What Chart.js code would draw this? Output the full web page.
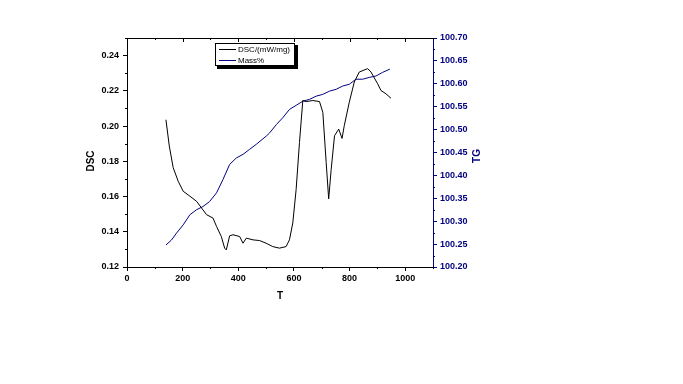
<!DOCTYPE html>
<html><head><meta charset="utf-8">
<script src="https://cdn.jsdelivr.net/npm/chart.js@4/dist/chart.umd.min.js"></script>
<style>html,body{margin:0;padding:0;background:#fff;}#wrap{width:683px;height:384px;position:relative;}</style>
</head><body><div id="wrap"><canvas id="c" width="683" height="384"></canvas></div>
<script>
// ---- data ----
const dscT = [140,152,166,184,202,226,250,268,286,309,322,339,351,357,369,381,405,417,429,453,477,500,524,548,572,584,596,608,620,632,644,668,692,704,716,725,734,746,761,773,781,799,817,835,865,877,901,913,931,949];
const dscV = [0.2036,0.1887,0.1764,0.1687,0.1630,0.1602,0.1573,0.1535,0.1497,0.1478,0.1430,0.1373,0.1307,0.1297,0.1377,0.1383,0.1373,0.1335,0.1364,0.1354,0.1350,0.1335,0.1316,0.1307,0.1316,0.1354,0.1450,0.1640,0.1907,0.2145,0.2139,0.2145,0.2139,0.2078,0.1793,0.1587,0.1754,0.1945,0.1983,0.1930,0.2002,0.2135,0.2250,0.2307,0.2326,0.2307,0.2240,0.2202,0.2183,0.2158];
const massT = [140,160,178,202,226,250,273,297,322,345,369,393,417,441,465,501,513,537,560,584,608,632,656,680,704,728,752,775,799,823,847,871,895,919,945];
const massV = [100.248,100.259,100.274,100.292,100.314,100.325,100.332,100.343,100.362,100.391,100.424,100.438,100.446,100.457,100.468,100.486,100.493,100.511,100.526,100.544,100.553,100.562,100.566,100.573,100.577,100.584,100.588,100.595,100.599,100.610,100.610,100.614,100.617,100.625,100.632];
const xTicks = [0,200,400,600,800,1000];
const yTicks = [0.12,0.14,0.16,0.18,0.20,0.22,0.24];
const y2Ticks = [100.20,100.25,100.30,100.35,100.40,100.45,100.50,100.55,100.60,100.65,100.70];
const seriesNames = ['DSC/(mW/mg)','Mass%'];
const axisTitles = {x:'T', y:'DSC', y2:'TG'};

const NAVY = '#000080';
const tickFont = {family:'"Liberation Sans", Arial, sans-serif', size:9, weight:'bold'};

const extras = {
  id:'extras',
  afterDraw(chart){
    const ctx = chart.ctx, a = chart.chartArea;
    const sx = chart.scales.x, sy = chart.scales.y, sy2 = chart.scales.y2;
    ctx.save();
    ctx.lineWidth = 1;
    // top border with inward ticks
    ctx.strokeStyle = '#000';
    ctx.beginPath();
    ctx.moveTo(a.left, a.top+0.5); ctx.lineTo(a.right, a.top+0.5);
    for (let v=0; v<=1100; v+=100){
      const p = Math.round(sx.getPixelForValue(v))+0.5;
      const L = (v%200===0)?4:2;
      ctx.moveTo(p, a.top); ctx.lineTo(p, a.top+L);
      if (v%200!==0){ ctx.moveTo(p, a.bottom); ctx.lineTo(p, a.bottom+2); }
    }
    // left minor ticks
    for (let i=0;i<7;i++){
      const v = 0.13+0.02*i;
      const p = Math.round(sy.getPixelForValue(v))+0.5;
      ctx.moveTo(a.left, p); ctx.lineTo(a.left-2, p);
    }
    ctx.stroke();
    // right minor ticks
    ctx.strokeStyle = NAVY;
    ctx.beginPath();
    for (let i=0;i<10;i++){
      const v = 100.225+0.05*i;
      const p = Math.round(sy2.getPixelForValue(v))+0.5;
      ctx.moveTo(a.right, p); ctx.lineTo(a.right+2, p);
    }
    ctx.stroke();
    // axis titles
    ctx.font = 'bold 10px "Liberation Sans", Arial, sans-serif';
    ctx.textAlign = 'center'; ctx.textBaseline = 'middle';
    ctx.fillStyle = '#000';
    ctx.fillText(axisTitles.x, (a.left+a.right)/2, 296);
    ctx.save(); ctx.translate(91, 161); ctx.rotate(-Math.PI/2); ctx.fillText(axisTitles.y,0,0); ctx.restore();
    ctx.fillStyle = NAVY;
    ctx.save(); ctx.translate(477, 156); ctx.rotate(-Math.PI/2); ctx.fillText(axisTitles.y2,0,0); ctx.restore();
    // legend
    const lx=215, ly=43, lw=80, lh=23;
    ctx.fillStyle = '#000';
    ctx.fillRect(lx+2, ly+2, lw+1, lh+1);
    ctx.fillStyle = '#fff';
    ctx.fillRect(lx, ly, lw, lh);
    ctx.strokeStyle = '#000';
    ctx.strokeRect(lx+0.5, ly+0.5, lw-1, lh-1);
    ctx.font = '8px "Liberation Sans", Arial, sans-serif';
    ctx.textAlign = 'left';
    const cols = ['#000', NAVY];
    for (let i=0;i<2;i++){
      const yy = ly+6.5+i*11;
      ctx.strokeStyle = cols[i];
      ctx.beginPath(); ctx.moveTo(lx+4, yy); ctx.lineTo(lx+21, yy); ctx.stroke();
      ctx.fillStyle = '#000';
      ctx.fillText(seriesNames[i], lx+23, yy);
    }
    ctx.restore();
  }
};

new Chart(document.getElementById('c'), {
  type:'line',
  data:{datasets:[
    {label:seriesNames[0], data:dscT.map((t,i)=>({x:t,y:dscV[i]})), borderColor:'#000', borderWidth:1, pointRadius:0, yAxisID:'y', tension:0},
    {label:seriesNames[1], data:massT.map((t,i)=>({x:t,y:massV[i]})), borderColor:NAVY, borderWidth:1, pointRadius:0, yAxisID:'y2', tension:0}
  ]},
  options:{
    responsive:false, animation:false, devicePixelRatio:1,
    layout:{padding:{top:38,left:0,right:0,bottom:0}},
    plugins:{legend:{display:false}, tooltip:{enabled:false}},
    scales:{
      x:{type:'linear', min:0, max:1100,
        afterBuildTicks:s=>{s.ticks = xTicks.map(v=>({value:v}));},
        afterFit:s=>{s.height = 117;},
        grid:{drawOnChartArea:false, drawTicks:true, tickLength:4, color:'#000'},
        border:{display:true, color:'#000', width:1},
        ticks:{font:tickFont, color:'#000', padding:2, maxRotation:0, callback:v=>String(v)}},
      y:{type:'linear', position:'left', min:0.12, max:0.25,
        afterBuildTicks:s=>{s.ticks = yTicks.map(v=>({value:v}));},
        afterFit:s=>{s.width = 127;},
        grid:{drawOnChartArea:false, drawTicks:true, tickLength:4, color:'#000'},
        border:{display:true, color:'#000', width:1},
        ticks:{font:tickFont, color:'#000', padding:4, callback:v=>Number(v).toFixed(2)}},
      y2:{type:'linear', position:'right', min:100.2, max:100.7,
        afterBuildTicks:s=>{s.ticks = y2Ticks.map(v=>({value:v}));},
        afterFit:s=>{s.width = 250;},
        grid:{drawOnChartArea:false, drawTicks:true, tickLength:4, color:NAVY},
        border:{display:true, color:NAVY, width:1},
        ticks:{font:tickFont, color:NAVY, padding:3, callback:v=>Number(v).toFixed(2)}}
    }
  },
  plugins:[extras]
});
</script></body></html>
